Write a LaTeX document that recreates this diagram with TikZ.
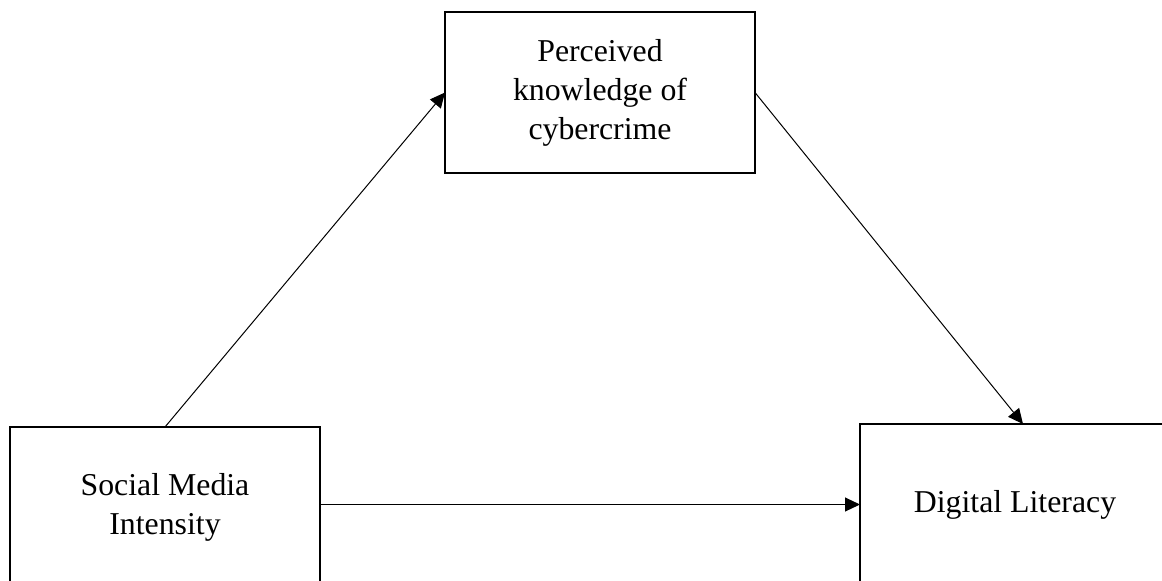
\documentclass[tikz,border=0pt]{standalone}
\usepackage{fontspec}
\setmainfont{Liberation Serif}
\usepackage{tikz}
\usetikzlibrary{arrows.meta,positioning}

\begin{document}
\begin{tikzpicture}[
    x=0.5pt, y=-0.5pt,
    varbox/.style={
        draw,
        line width=0.9pt,
        align=center,
        inner sep=0pt,
        outer sep=0pt,
        minimum width=155pt,
        minimum height=80.5pt,
        font=\fontsize{15.9}{19.5}\selectfont
    },
    arrow/.style={-{Triangle[length=7.5pt, width=7pt]}, line width=0.5pt}
]
\useasboundingbox (0,0) rectangle (1162,580);
\clip (0,0) rectangle (1162,580);

\node[varbox] (social) at (165,507.5) {Social Media\\Intensity};
\node[varbox, above right=127pt and 62.5pt of social] (knowledge) {Perceived\\knowledge of\\cybercrime};
\node[varbox, right=270pt of social, yshift=1.5pt] (literacy) {Digital Literacy};

\draw[arrow] (social.north) -- (knowledge.west);
\draw[arrow] (knowledge.east) -- ([xshift=4pt]literacy.north);
\draw[arrow] (social.east |- literacy.west) -- (literacy.west);
\end{tikzpicture}
\end{document}
